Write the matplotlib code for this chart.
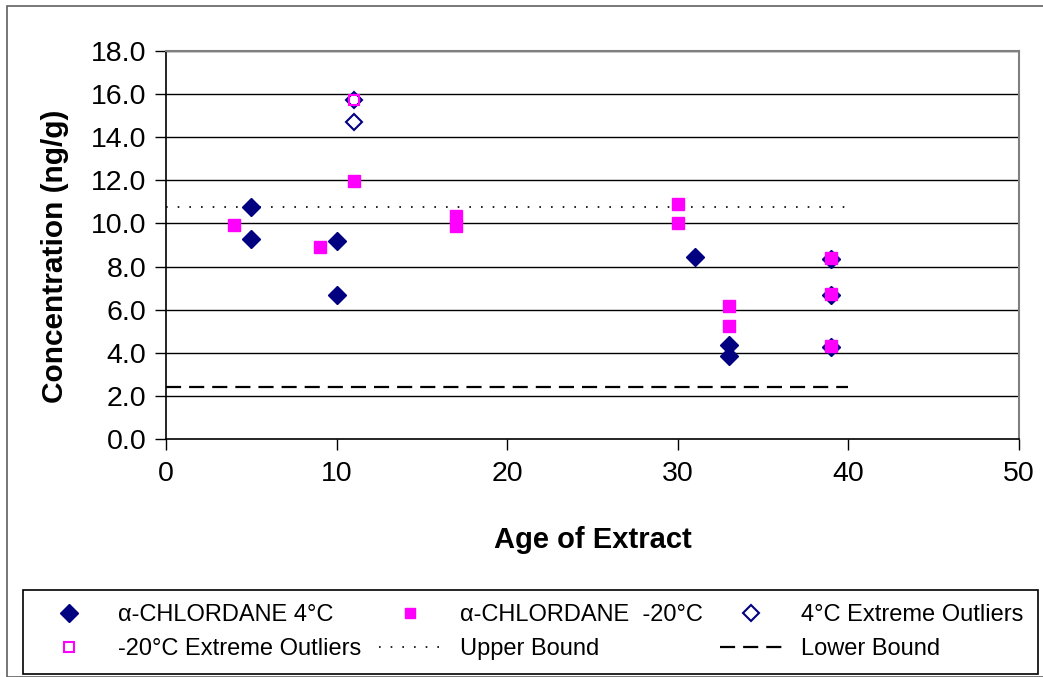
import matplotlib
matplotlib.use("Agg")
import matplotlib.pyplot as plt
from matplotlib.lines import Line2D
from matplotlib.patches import Rectangle

plt.rcParams['font.family'] = ['Liberation Sans', 'DejaVu Sans']

# Data
age_4c = [5, 5, 10, 10, 31, 33, 33, 39, 39, 39]
conc_4c = [10.76, 9.3, 9.2, 6.68, 8.45, 4.36, 3.85, 8.35, 6.68, 4.27]

age_m20 = [4, 9, 11, 17, 17, 30, 30, 33, 33, 39, 39, 39]
conc_m20 = [9.95, 8.9, 11.97, 10.34, 9.88, 10.9, 10.0, 6.17, 5.24, 8.4, 6.73, 4.31]

age_out_4c = [11, 11]
conc_out_4c = [15.72, 14.7]

age_out_m20 = [11]
conc_out_m20 = [15.72]

bound_x = [0, 40]
upper_bound = 10.76
lower_bound = 2.41

xticks = [0, 10, 20, 30, 40, 50]
yticks = [0, 2, 4, 6, 8, 10, 12, 14, 16, 18]

navy = '#000080'
magenta = '#FF00FF'

fig = plt.figure(figsize=(10.43, 6.77), dpi=100)
ax = fig.add_axes([166/1043, 1-439/677, (1019-166)/1043, (439-51)/677])

for y in yticks[1:]:
    ax.axhline(y, color='black', lw=1.0, zorder=1)

ax.plot(bound_x, [upper_bound]*2, color='black', lw=1.2, linestyle=(0, (1, 6)), zorder=2)
ax.plot(bound_x, [lower_bound]*2, color='black', lw=1.6, linestyle=(0, (6.8, 3.6)), zorder=2)

ax.plot(age_4c, conc_4c, 'D', color=navy, mec=navy, ms=9, ls='none', zorder=3)
ax.plot(age_m20, conc_m20, 's', color=magenta, mec=magenta, ms=8.5, ls='none', zorder=4)
ax.plot(age_out_4c, conc_out_4c, 'D', mfc='white', mec=navy, mew=1.5, ms=8.5, ls='none', zorder=3)
ax.plot(age_out_m20, conc_out_m20, 's', mfc='none', mec=magenta, mew=1.5, ms=7.5, ls='none', zorder=5)

ax.set_xlim(0, 50)
ax.set_ylim(0, 18)
ax.set_xticks(xticks)
ax.set_yticks(yticks)
ax.set_yticklabels([f"{v:.1f}" for v in yticks])
ax.tick_params(axis='both', direction='out', length=8, width=1, labelsize=20.5, color='black')
ax.tick_params(axis='x', pad=8)
ax.tick_params(axis='y', pad=6)

for s in ['left', 'bottom']:
    ax.spines[s].set_color('black')
    ax.spines[s].set_linewidth(1.2)
for s in ['top', 'right']:
    ax.spines[s].set_color('#808080')
    ax.spines[s].set_linewidth(1.5)

ax.set_xlabel('Age of Extract', fontsize=21, fontweight='bold', labelpad=28)
ax.set_ylabel('Concentration (ng/g)', fontsize=21.5, fontweight='bold', va='center')
ax.yaxis.set_label_coords(-0.130, 0.472)

# outer chart border
fig.patches.append(Rectangle((7/1043, 0), 1.2, 1-6/677, transform=fig.transFigure,
                             fill=False, edgecolor='#606060', lw=1.2, zorder=0))
# legend box
fig.patches.append(Rectangle((23/1043, 3/677), (1038-23)/1043, (674-590)/677,
                             transform=fig.transFigure, fill=False, edgecolor='black', lw=1.2, zorder=0))

h1 = Line2D([], [], marker='D', color=navy, ls='none', ms=9)
h2 = Line2D([], [], marker='s', color=magenta, ls='none', ms=7)
h3 = Line2D([], [], marker='D', mfc='white', mec=navy, mew=1.5, ls='none', ms=8.5)
h4 = Line2D([], [], marker='s', mfc='none', mec=magenta, mew=1.5, ls='none', ms=6.5)
h5 = Line2D([], [], color='black', lw=1.2, linestyle=(0, (1, 6)))
h6 = Line2D([], [], color='black', lw=1.6, linestyle=(0, (6.8, 3.6)))

handles = [h1, h4, h2, h5, h3, h6]
labels = ['α-CHLORDANE 4°C', '-20°C Extreme Outliers',
          'α-CHLORDANE  -20°C', 'Upper Bound',
          '4°C Extreme Outliers', 'Lower Bound']
fig.legend(handles, labels, ncol=3, loc='center',
           bbox_to_anchor=((23+1038)/2/1043, 1-(590+674)/2/677),
           frameon=False, fontsize=17, handlelength=2.6, handletextpad=0.8,
           columnspacing=0.75, labelspacing=0.5, borderpad=0.2)

fig.savefig('out.png', dpi=100)
